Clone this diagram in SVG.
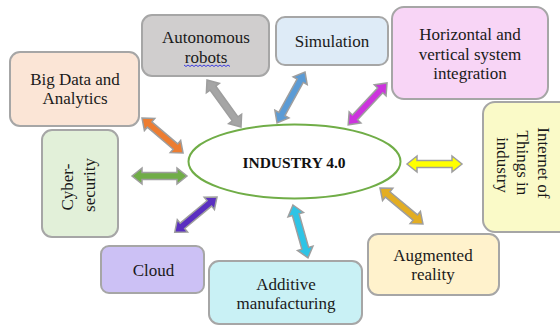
<svg xmlns="http://www.w3.org/2000/svg" width="560" height="327" viewBox="0 0 560 327">
  <style>
    .box { stroke: #a6a6a6; stroke-width: 2; }
    .lbl { font-family: "Liberation Serif", "Times New Roman", serif; font-size: 17px; fill: #1a1a1a; text-anchor: middle; }
    .hub { font-family: "Liberation Serif", "Times New Roman", serif; font-size: 15.5px; font-weight: bold; fill: #111; text-anchor: middle; }
    .arrow { stroke: #9e9e9e; stroke-width: 1.5; stroke-linejoin: miter; }
  </style>
  <rect width="560" height="327" fill="#ffffff"/>

  <!-- double-headed block arrows between the hub and each topic -->
  <g id="connectors">
    <path class="arrow" fill="#ed7d31" transform="translate(142,118) rotate(40.5)" d="M0,0 L10,-8 L10,-3.5 L44,-3.5 L44,-8 L54,0 L44,8 L44,3.5 L10,3.5 L10,8 Z"/>
    <path class="arrow" fill="#70ad47" transform="translate(132,176)" d="M0,0 L10,-8 L10,-3.5 L45,-3.5 L45,-8 L55,0 L45,8 L45,3.5 L10,3.5 L10,8 Z"/>
    <path class="arrow" fill="#a5a5a5" transform="translate(207,80) rotate(54.1)" d="M0,0 L10,-8 L10,-3.5 L48,-3.5 L48,-8 L58,0 L48,8 L48,3.5 L10,3.5 L10,8 Z"/>
    <path class="arrow" fill="#5b9bd5" transform="translate(305,72) rotate(118.8)" d="M0,0 L10,-8 L10,-3.5 L48,-3.5 L48,-8 L58,0 L48,8 L48,3.5 L10,3.5 L10,8 Z"/>
    <path class="arrow" fill="#cc33dd" transform="translate(387,83) rotate(132.9)" d="M0,0 L10,-8 L10,-3.5 L47,-3.5 L47,-8 L57,0 L47,8 L47,3.5 L10,3.5 L10,8 Z"/>
    <path class="arrow" fill="#ffff00" transform="translate(407,164)" d="M0,0 L10,-8 L10,-3.5 L45,-3.5 L45,-8 L55,0 L45,8 L45,3.5 L10,3.5 L10,8 Z"/>
    <path class="arrow" fill="#e3ad22" transform="translate(380,188) rotate(39.9)" d="M0,0 L10,-8 L10,-3.5 L46,-3.5 L46,-8 L56,0 L46,8 L46,3.5 L10,3.5 L10,8 Z"/>
    <path class="arrow" fill="#2ec4e6" transform="translate(293,205) rotate(74.2)" d="M0,0 L10,-8 L10,-3.5 L45,-3.5 L45,-8 L55,0 L45,8 L45,3.5 L10,3.5 L10,8 Z"/>
    <path class="arrow" fill="#5a2fc0" transform="translate(217,197) rotate(140.2)" d="M0,0 L10,-8 L10,-3.5 L45,-3.5 L45,-8 L55,0 L45,8 L45,3.5 L10,3.5 L10,8 Z"/>
  </g>

  <g id="hub">
    <ellipse cx="294.5" cy="161.5" rx="106" ry="37" fill="#ffffff" stroke="#70ad47" stroke-width="2"/>
    <text class="hub" x="294" y="168">INDUSTRY 4.0</text>
  </g>

  <g id="big-data">
    <rect class="box" x="10" y="52" width="129" height="74" rx="10" fill="#fbe5d6"/>
    <text class="lbl" x="75" y="85">Big Data and</text>
    <text class="lbl" x="75" y="104">Analytics</text>
  </g>

  <g id="autonomous-robots">
    <rect class="box" x="142" y="15" width="127" height="61" rx="10" fill="#d0cece"/>
    <text class="lbl" x="206" y="43">Autonomous</text>
    <text class="lbl" x="206" y="63">robots</text>
    <polyline points="184,65 186,66.5 188,65 190,66.5 192,65 194,66.5 196,65 198,66.5 200,65 202,66.5 204,65 206,66.5 208,65 210,66.5 212,65 214,66.5 216,65 218,66.5 220,65 222,66.5 224,65 226,66.5 228,65 230,66.5" fill="none" stroke="#2a2ae0" stroke-width="0.9"/>
  </g>

  <g id="simulation">
    <rect class="box" x="276" y="17" width="112" height="48" rx="9" fill="#deebf7"/>
    <text class="lbl" x="332" y="47">Simulation</text>
  </g>

  <g id="system-integration">
    <rect class="box" x="392" y="7" width="156" height="92" rx="12" fill="#f8d5f6"/>
    <text class="lbl" x="470" y="40">Horizontal and</text>
    <text class="lbl" x="470" y="59.5">vertical system</text>
    <text class="lbl" x="470" y="79">integration</text>
  </g>

  <g id="internet-of-things">
    <rect class="box" x="483" y="102" width="92" height="130" rx="12" fill="#fafac8"/>
    <text class="lbl" transform="translate(522,165) rotate(90)">
      <tspan x="0" y="-15.5">Internet of</tspan>
      <tspan x="0" y="5">Things in</tspan>
      <tspan x="0" y="25.5">industry</tspan>
    </text>
  </g>

  <g id="cyber-security">
    <rect class="box" x="42" y="130" width="76" height="107" rx="10" fill="#e2f0d9"/>
    <text class="lbl" transform="translate(79,185) rotate(-90)">
      <tspan x="0" y="-6">Cyber-</tspan>
      <tspan x="0" y="16">security</tspan>
    </text>
  </g>

  <g id="cloud">
    <rect class="box" x="101" y="246" width="103" height="47" rx="8" fill="#ccc1f5"/>
    <text class="lbl" x="153.5" y="276">Cloud</text>
  </g>

  <g id="additive-manufacturing">
    <rect class="box" x="209" y="261" width="153" height="63" rx="10" fill="#c9f1f5"/>
    <text class="lbl" x="286" y="290">Additive</text>
    <text class="lbl" x="286" y="309">manufacturing</text>
  </g>

  <g id="augmented-reality">
    <rect class="box" x="368" y="234" width="131" height="61" rx="10" fill="#fff2cc"/>
    <text class="lbl" x="433" y="261">Augmented</text>
    <text class="lbl" x="433" y="280">reality</text>
  </g>
</svg>
